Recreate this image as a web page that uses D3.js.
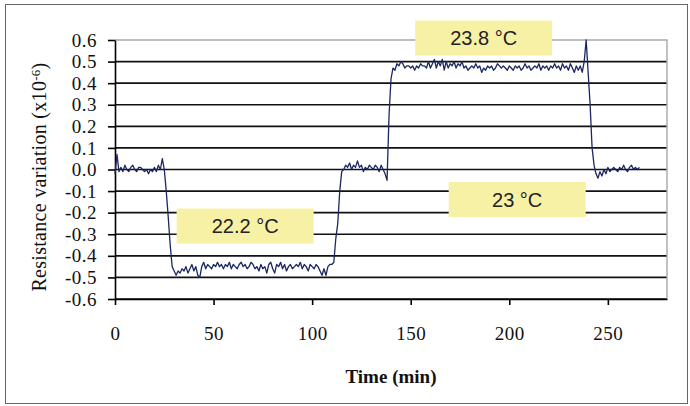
<!DOCTYPE html>
<html>
<head>
<meta charset="utf-8">
<script src="https://cdn.jsdelivr.net/npm/d3@7"></script>
<style>
  body { margin: 0; background: #fff; }
  svg { display: block; }
</style>
</head>
<body>
<div id="container"></div>
<script>
// one reading per minute, starting at t = 0
const resistance = [
  -0.02, 0.07, -0.01, 0.01, -0.01, 0.02, 0.00, -0.01, 0.01, 0.02,
  0.00, -0.01, 0.01, 0.01, 0.00, -0.01, 0.00, -0.02, 0.00, -0.01,
  0.01, -0.01, 0.02, 0.00, 0.05, 0.00, -0.10, -0.22, -0.35, -0.45,
  -0.47, -0.49, -0.47, -0.48, -0.46, -0.47, -0.45, -0.48, -0.46, -0.44,
  -0.47, -0.45, -0.49, -0.50, -0.45, -0.43, -0.46, -0.44, -0.45, -0.46,
  -0.44, -0.45, -0.43, -0.45, -0.44, -0.46, -0.44, -0.45, -0.43, -0.46,
  -0.44, -0.45, -0.46, -0.44, -0.43, -0.45, -0.44, -0.46, -0.45, -0.43,
  -0.44, -0.46, -0.45, -0.47, -0.44, -0.46, -0.45, -0.48, -0.44, -0.43,
  -0.46, -0.48, -0.44, -0.45, -0.43, -0.46, -0.44, -0.47, -0.45, -0.44,
  -0.46, -0.45, -0.44, -0.45, -0.43, -0.46, -0.44, -0.45, -0.47, -0.44,
  -0.45, -0.46, -0.44, -0.45, -0.47, -0.49, -0.46, -0.49, -0.45, -0.44,
  -0.44, -0.43, -0.32, -0.25, -0.10, -0.01, 0.00, 0.02, 0.01, 0.03,
  0.00, 0.02, 0.01, 0.04, 0.01, 0.02, -0.01, 0.01, 0.00, 0.02,
  0.01, 0.00, 0.02, 0.01, -0.01, 0.02, 0.00, -0.02, -0.05, 0.25,
  0.42, 0.47, 0.46, 0.49, 0.48, 0.50, 0.49, 0.47, 0.48, 0.48,
  0.47, 0.48, 0.46, 0.48, 0.47, 0.49, 0.48, 0.48, 0.47, 0.50,
  0.47, 0.49, 0.51, 0.47, 0.50, 0.48, 0.51, 0.46, 0.50, 0.47,
  0.49, 0.48, 0.50, 0.47, 0.49, 0.48, 0.50, 0.47, 0.48, 0.46,
  0.47, 0.48, 0.47, 0.49, 0.47, 0.48, 0.45, 0.47, 0.46, 0.48,
  0.47, 0.48, 0.46, 0.47, 0.49, 0.48, 0.47, 0.48, 0.47, 0.46,
  0.48, 0.47, 0.46, 0.48, 0.47, 0.48, 0.46, 0.47, 0.49, 0.47,
  0.48, 0.46, 0.47, 0.48, 0.47, 0.49, 0.46, 0.48, 0.47, 0.48,
  0.46, 0.48, 0.47, 0.49, 0.47, 0.48, 0.46, 0.49, 0.47, 0.48,
  0.46, 0.49, 0.47, 0.45, 0.48, 0.46, 0.48, 0.45, 0.50, 0.60,
  0.45, 0.30, 0.10, 0.02, -0.02, -0.04, -0.01, -0.03, 0.00, -0.02,
  0.01, -0.01, 0.00, 0.01, 0.00, -0.01, 0.01, 0.00, 0.02, 0.00,
  -0.01, 0.01, 0.02, 0.00, 0.01, 0.00, 0.01
]

const xTicks = [0, 50, 100, 150, 200, 250]
const yTicks = [-0.6, -0.5, -0.4, -0.3, -0.2, -0.1, 0, 0.1, 0.2, 0.3, 0.4, 0.5, 0.6]

const labels = ["22.2 °C", "23.8 °C", "23 °C"]
const labelTimes = [66, 187, 204]
const labelValues = [-0.262, 0.609, -0.139]

const points = resistance.map((v, i) => ({ t: i, v: v }))

const width = 690, height = 406
const plotL = 115, plotR = 667, plotT = 40, plotB = 299
const serif = "'Liberation Serif', 'Times New Roman', serif"

const fmt = d3.formatLocale({ decimal: ".", thousands: ",", grouping: [3], currency: ["", ""], minus: "-" }).format(".1f")

const x = d3.scaleLinear().domain([0, 280]).range([plotL, plotR])
const y = d3.scaleLinear().domain([-0.6, 0.6]).range([plotB, plotT])

const svg = d3.select("div#container")
    .append("svg")
    .attr("width", width)
    .attr("height", height)

// outer frame
svg.append("rect")
    .attr("x", 5.5).attr("y", 4.5)
    .attr("width", 682).attr("height", 399)
    .attr("fill", "#fff")
    .attr("stroke", "#666")

// gridlines
svg.append("g")
    .selectAll("line")
    .data(yTicks.filter(d => d !== 0.6))
    .enter()
    .append("line")
    .attr("x1", plotL).attr("x2", plotR)
    .attr("y1", d => y(d)).attr("y2", d => y(d))
    .attr("stroke", "#111")
    .attr("stroke-width", 1.6)

// plot border, top and right
svg.append("path")
    .attr("d", `M${plotL},${plotT}H${plotR}V${plotB}`)
    .attr("fill", "none")
    .attr("stroke", "#a8a8a8")
    .attr("stroke-width", 1.4)

const yAxis = svg.append("g")
    .attr("transform", `translate(${plotL},0)`)
    .call(d3.axisLeft(y).tickValues(yTicks).tickFormat(fmt).tickSizeInner(7).tickSizeOuter(0).tickPadding(11))
    .attr("font-family", serif)
    .attr("font-size", 19)

const xAxis = svg.append("g")
    .attr("transform", `translate(0,${plotB})`)
    .call(d3.axisBottom(x).tickValues(xTicks).tickSizeInner(6).tickSizeOuter(0).tickPadding(22))
    .attr("font-family", serif)
    .attr("font-size", 19)

svg.selectAll(".domain, .tick line")
    .attr("stroke", "#000")
    .attr("stroke-width", 1.6)

svg.selectAll(".tick text")
    .attr("fill", "#111")
    .style("letter-spacing", "0.5px")

// annotation boxes
const note = svg.append("g")
    .selectAll("g")
    .data(labels)
    .enter()
    .append("g")
    .attr("transform", (d, i) => `translate(${x(labelTimes[i])},${y(labelValues[i])})`)

note.append("rect")
    .attr("x", -68.5).attr("y", -17.5)
    .attr("width", 137).attr("height", 35)
    .attr("fill", "#f6f1a4")

note.append("text")
    .attr("text-anchor", "middle")
    .attr("dy", "0.36em")
    .style("font-family", "'Liberation Sans', Arial, sans-serif")
    .style("font-size", "20px")
    .attr("fill", "#222")
    .text(d => d)

const line = d3.line()
    .x(d => x(d.t))
    .y(d => y(d.v))

svg.append("path")
    .datum(points)
    .attr("d", line)
    .attr("fill", "none")
    .attr("stroke", "#1b2762")
    .attr("stroke-width", 1.3)
    .attr("stroke-linejoin", "round")

svg.append("text")
    .attr("x", (plotL + plotR) / 2)
    .attr("y", 383)
    .attr("text-anchor", "middle")
    .style("font-family", serif)
    .style("font-size", "19px")
    .style("font-weight", "bold")
    .attr("fill", "#111")
    .text("Time (min)")

const yTitle = svg.append("text")
    .attr("transform", "translate(46,177) rotate(-90)")
    .attr("text-anchor", "middle")
    .style("font-family", serif)
    .style("font-size", "20px")
    .style("letter-spacing", "0.3px")
    .attr("fill", "#111")

yTitle.append("tspan").text("Resistance variation (x10")
yTitle.append("tspan").attr("dy", "-0.45em").style("font-size", "13px").text("-6")
yTitle.append("tspan").attr("dy", "0.3em").text(")")
</script>
</body>
</html>
